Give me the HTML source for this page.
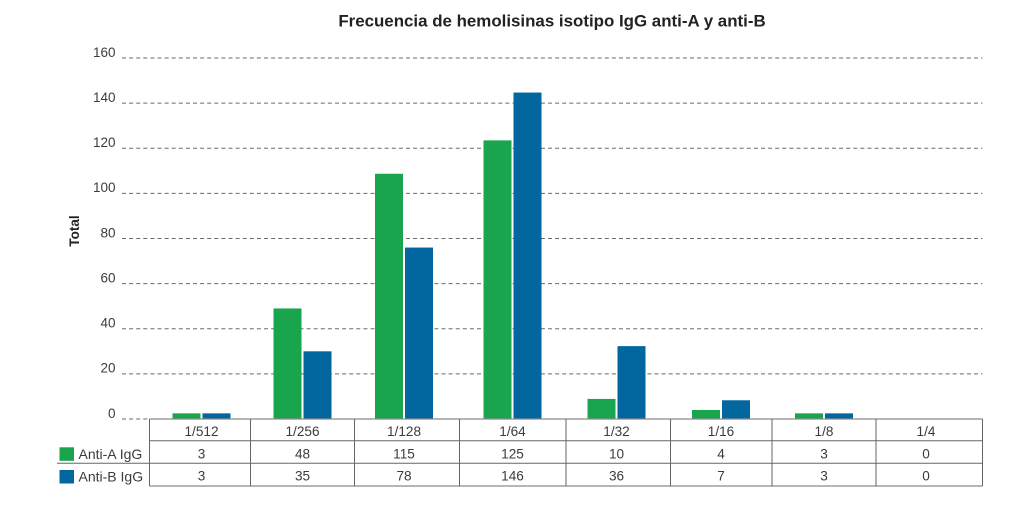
<!DOCTYPE html>
<html lang="es">
<head>
<meta charset="utf-8">
<title>Frecuencia de hemolisinas isotipo IgG anti-A y anti-B</title>
<style>
  html, body { margin: 0; padding: 0; background: #fff; width: 1024px; height: 508px; overflow: hidden; }
  svg { display: block; }
  text { font-family: "Liberation Sans", Arial, sans-serif; fill: #3c3c3c; }
</style>
</head>
<body>
<svg id="chart" xmlns="http://www.w3.org/2000/svg" width="1024" height="508" viewBox="0 0 1024 508">
  <rect x="0" y="0" width="1024" height="508" fill="#ffffff"/>
  <text x="552" y="26.3" text-anchor="middle" font-size="16.9" font-weight="bold" style="fill:#222">Frecuencia de hemolisinas isotipo IgG anti-A y anti-B</text>
  <text transform="translate(79 231) rotate(-90)" text-anchor="middle" font-size="13.5" font-weight="bold" style="fill:#222">Total</text>
  <g id="grid"></g>
  <g id="ticks"></g>
  <g id="bars"></g>
  <g id="table"></g>
</svg>
<script>
// Category labels and tick labels
const categories = ["1/512", "1/256", "1/128", "1/64", "1/32", "1/16", "1/8", "1/4"];
const yTicks = [0, 20, 40, 60, 80, 100, 120, 140, 160];
const seriesNames = ["Anti-A IgG", "Anti-B IgG"];

// Values printed in the data table
const tableAntiA = [3, 48, 115, 125, 10, 4, 3, 0];
const tableAntiB = [3, 35, 78, 146, 36, 7, 3, 0];

// Bar heights as read against the y axis of the picture
const barsAntiA = [2.5, 49, 108.7, 123.5, 8.9, 4, 2.5, 0];
const barsAntiB = [2.5, 30, 76, 144.7, 32.3, 8.3, 2.5, 0];

const NS = "http://www.w3.org/2000/svg";
const GREEN = "#19a44e";
const BLUE = "#02679f";

// y axis: 0 sits on the table's top edge
function yScale(v) {
  return 419 - v * 2.256;
}

// x axis: the category band is slightly uneven in the source
function bandEdge(i) {
  const edges = [149.5, 250.5, 354.5, 459.5, 566, 670.5, 772, 876, 982.5];
  return edges[i];
}
function bandCenter(i) {
  const centers = [201.5, 302.5, 404, 512.5, 616.5, 721, 824, 926];
  return centers[i];
}

function make(tag, attrs, parent, content) {
  const el = document.createElementNS(NS, tag);
  Object.keys(attrs).forEach(function (k) { el.setAttribute(k, attrs[k]); });
  if (content !== undefined) el.textContent = content;
  parent.appendChild(el);
  return el;
}

const gridG = document.getElementById("grid");
const ticksG = document.getElementById("ticks");
const barsG = document.getElementById("bars");
const tableG = document.getElementById("table");

yTicks.forEach(function (t) {
  const y = yScale(t);
  const line = make("line", { x1: 122, x2: t === 0 ? 149.5 : 982.5, y1: y, y2: y, stroke: "#6a6a6a", "stroke-width": 1, "stroke-dasharray": "4 3.1" }, gridG);
  
  
  const label = make("text", { x: 115.5, y: y - 1.2, "text-anchor": "end", "font-size": 13.5 }, ticksG, String(t));
  
  
});

function drawBars(values, offset, color, name) {
  values.forEach(function (v, i) {
    if (v <= 0) return;
    const top = yScale(v);
    const bar = make("rect", { x: bandCenter(i) + offset, y: top, width: 28, height: yScale(0) - top, fill: color }, barsG);
    
    
  });
}
drawBars(barsAntiA, -29, GREEN, 'bar-anti-a');
drawBars(barsAntiB, 1, BLUE, 'bar-anti-b');

// Data table
const rowLines = [419, 440.7, 463.3, 486];
rowLines.forEach(function (y, r) {
  const h = make("line", { x1: r === 2 ? 57 : 149.5, x2: 982.5, y1: y, y2: y, stroke: r === 0 || r === 3 ? "#8a8a8a" : "#666666", "stroke-width": r === 0 || r === 3 ? 1.3 : 1 }, tableG);
  
  
});
categories.concat([""]).forEach(function (_, i) {
  const x = bandEdge(i);
  const v = make("line", { x1: x, x2: x, y1: 419, y2: 486, stroke: "#666666", "stroke-width": 1 }, tableG);
  
  
});
categories.forEach(function (c, i) {
  const x = bandCenter(i);
  const head = make("text", { x: x, y: 436, "text-anchor": "middle", "font-size": 13.6 }, tableG, c);
  
  
  const a = make("text", { x: x, y: 458.5, "text-anchor": "middle", "font-size": 13.6 }, tableG, String(tableAntiA[i]));
  
  
  const b = make("text", { x: x, y: 480.7, "text-anchor": "middle", "font-size": 13.6 }, tableG, String(tableAntiB[i]));
  
  
});

// Legend keys inside the table's first column
const swatchA = make("rect", { x: 59.5, y: 447.3, width: 14.5, height: 13.5, fill: GREEN }, tableG);


const swatchB = make("rect", { x: 59.5, y: 470, width: 14.5, height: 13.5, fill: BLUE }, tableG);


const nameA = make("text", { x: 78.5, y: 459, "font-size": 14 }, tableG, seriesNames[0]);


const nameB = make("text", { x: 78.5, y: 481.5, "font-size": 14 }, tableG, seriesNames[1]);


</script>
</body>
</html>
